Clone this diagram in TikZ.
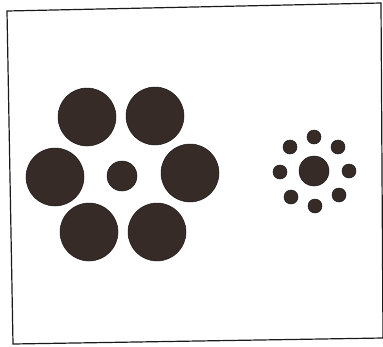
\documentclass[tikz,border=0pt]{standalone}
\usetikzlibrary{positioning}
\definecolor{ink}{HTML}{1A1A1A}
\definecolor{disc}{HTML}{362B26}
\tikzset{
  frame/.style={draw=ink, line width=1.2pt},
  bigdisc/.style={circle, draw=ink, line width=0.5pt, fill=disc, inner sep=0pt, minimum size=58pt},
  meddisc/.style={bigdisc, minimum size=30pt},
  tinydisc/.style={bigdisc, minimum size=14pt},
}

\begin{document}
\begin{tikzpicture}[x=1pt, y=-1pt]
\useasboundingbox (0,0) rectangle (383,346);

% frame (slightly skewed scan)
\coordinate (tl) at (7,11);
\coordinate (tr) at (381,3);
\coordinate (br) at (383,338);
\coordinate (bl) at (13,344);
\draw[frame] (tl) -- (tr) -- (br) -- (bl) -- cycle;

% left group: large surround
\node[meddisc] (lc) at (122,176) {};
\node[bigdisc] (lnw) at (87,117) {};
\node[bigdisc] (lne) at (155,116) {};
\node[bigdisc] (lw) at (55,177) {};
\node[bigdisc] (le) at (190,173) {};
\node[bigdisc] (lsw) at (89,232) {};
\node[bigdisc] (lse) at (157,232) {};

% right group: small surround
\node[meddisc] (rc) at (314,171) {};
\node[tinydisc] (rn) at (314,137) {};
\node[tinydisc] (rnw) at (290,147) {};
\node[tinydisc] (rne) at (338,147) {};
\node[tinydisc] (rw) at (280,172) {};
\node[tinydisc] (re) at (349,171) {};
\node[tinydisc] (rsw) at (291,197) {};
\node[tinydisc] (rs) at (315,206) {};
\node[tinydisc] (rse) at (339,195) {};

\end{tikzpicture}
\end{document}
